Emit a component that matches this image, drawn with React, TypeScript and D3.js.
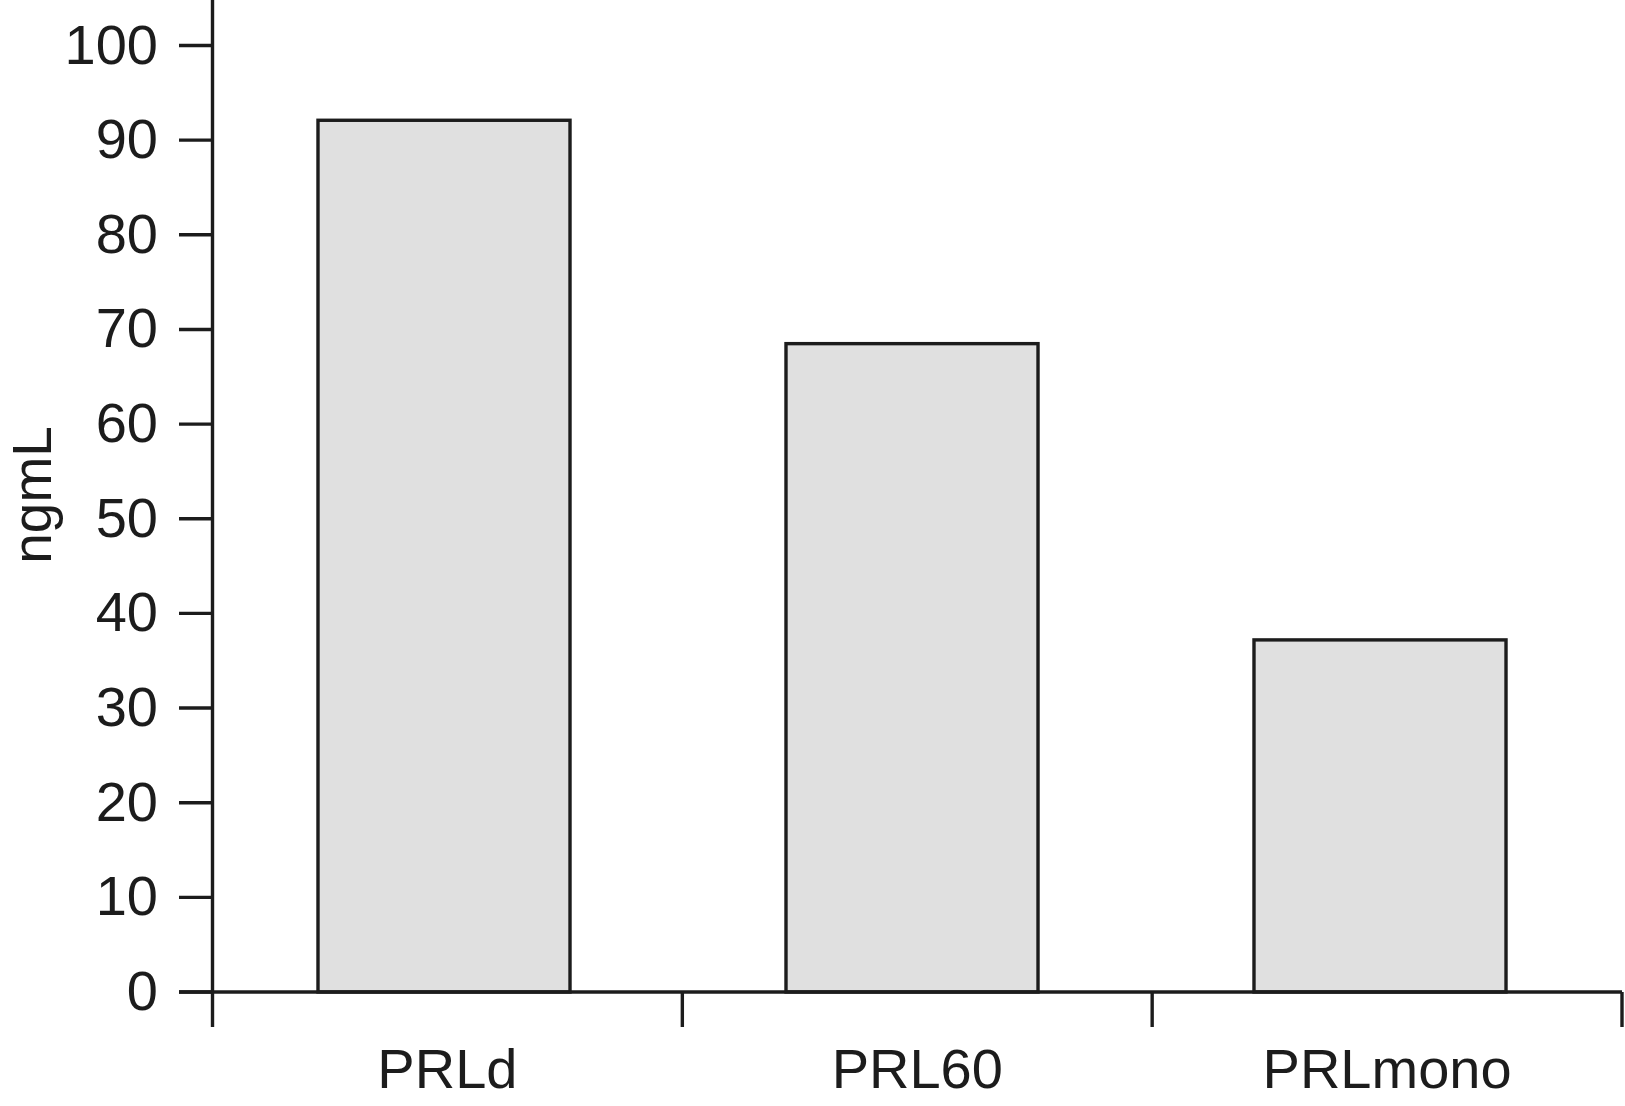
import React from "react";
import * as d3 from "d3";

const categories: string[] = ["PRLd", "PRL60", "PRLmono"];
const values: number[] = [92.1, 68.5, 37.2];
const yTicks: number[] = [0, 10, 20, 30, 40, 50, 60, 70, 80, 90, 100];
const yLabel = "ngmL";

const W = 1625;
const H = 1106;
const FONT = "'Liberation Sans', Arial, Helvetica, sans-serif";
const INK = "#1c1c1c";

export default function App() {
  const y = d3.scaleLinear().domain([0, 100]).range([992, 45.5]);
  // axis bands (tick boundaries, label centres)
  const xAxis = d3.scaleBand<string>().domain(categories).range([212.5, 1622]);
  // bar placement
  const xBar = d3
    .scaleBand<string>()
    .domain(categories)
    .range([210, 1614])
    .paddingInner(0.4615)
    .paddingOuter(0.4615 / 2);
  const step = xAxis.step();
  const x0 = 212.5;
  const boundaries = d3.range(categories.length + 1).map((i) => x0 + i * step);
  const sw = 3.4;

  return (
    <svg
      width={W}
      height={H}
      style={{ display: "block", position: "absolute", left: 0, top: 0, background: "#fff" }}
    >
      <rect x={0} y={0} width={W} height={H} fill="#fff" />
      {categories.map((c, i) => (
        <rect
          key={c}
          x={xBar(c)!}
          y={y(values[i])}
          width={xBar.bandwidth()}
          height={y(0) - y(values[i])}
          fill="#e0e0e0"
          stroke={INK}
          strokeWidth={sw}
        />
      ))}
      <line x1={x0} x2={x0} y1={0} y2={y(0)} stroke={INK} strokeWidth={sw} />
      {yTicks.map((t) => (
        <g key={t}>
          <line x1={179} x2={x0} y1={y(t)} y2={y(t)} stroke={INK} strokeWidth={sw} />
          <text
            x={158}
            y={y(t) + 18}
            textAnchor="end"
            fontFamily={FONT}
            fontSize={56}
            fill={INK}
          >
            {t}
          </text>
        </g>
      ))}
      <line x1={179} x2={1622} y1={y(0)} y2={y(0)} stroke={INK} strokeWidth={sw} />
      {boundaries.map((bx, i) => (
        <line key={i} x1={bx} x2={bx} y1={y(0)} y2={1027} stroke={INK} strokeWidth={sw} />
      ))}
      {categories.map((c) => (
        <text
          key={c}
          x={xAxis(c)! + xAxis.bandwidth() / 2}
          y={1088}
          textAnchor="middle"
          fontFamily={FONT}
          fontSize={56}
          fill={INK}
        >
          {c}
        </text>
      ))}
      <text
        transform={`translate(51,495) rotate(-90)`}
        textAnchor="middle"
        fontFamily={FONT}
        fontSize={55}
        fill={INK}
      >
        {yLabel}
      </text>
    </svg>
  );
}
